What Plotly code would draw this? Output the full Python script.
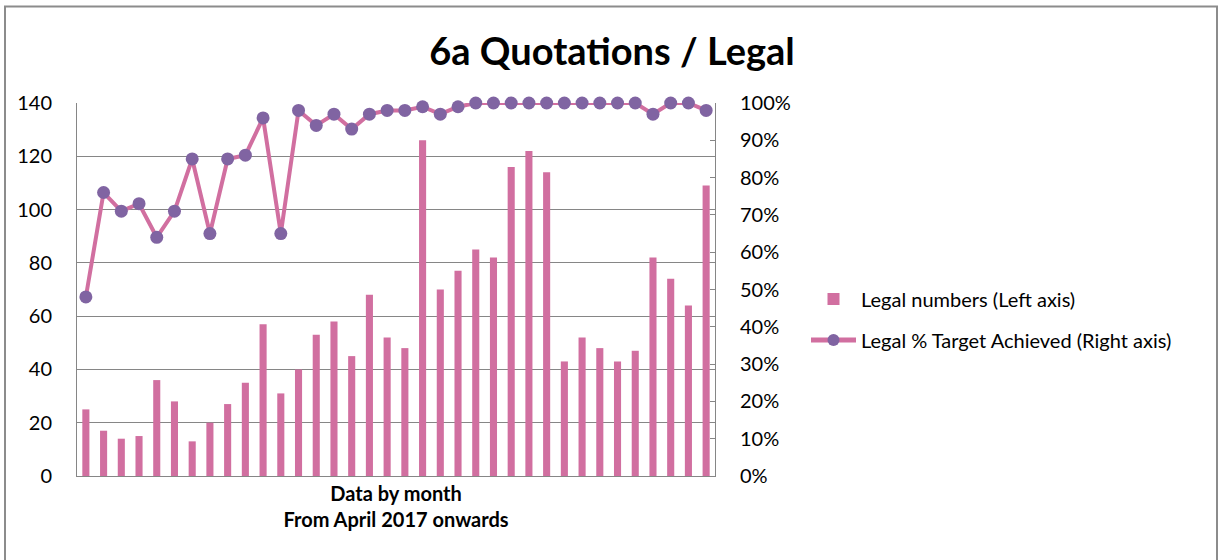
import plotly.graph_objects as go

months = list(range(1, 37))
legal_numbers = [25, 17, 14, 15, 36, 28, 13, 20, 27, 35, 57, 31, 40, 53, 58, 45, 68, 52, 48,
                 126, 70, 77, 85, 82, 116, 122, 114, 43, 52, 48, 43, 47, 82, 74, 64, 109]
legal_pct = [48, 76, 71, 73, 64, 71, 85, 65, 85, 86, 96, 65, 98, 94, 97, 93, 97, 98, 98,
             99, 97, 99, 100, 100, 100, 100, 100, 100, 100, 100, 100, 100, 97, 100, 100, 98]
legal_frac = [v / 100 for v in legal_pct]

left_ticks = [0, 20, 40, 60, 80, 100, 120, 140]
right_ticks = [i / 10 for i in range(11)]

PINK = "#D16FA0"
PURPLE = "#8064A2"
GRID = "#868686"
FONT = "Lato, Calibri, Carlito, sans-serif"
FS = 20

fig = go.Figure()
fig.add_trace(go.Bar(x=months, y=legal_numbers, name="Legal numbers (Left axis)",
                     marker=dict(color=PINK, line=dict(width=0)), yaxis="y", legend="legend"))
fig.add_trace(go.Scatter(x=months, y=legal_frac, name="Legal % Target Achieved (Right axis)",
                         mode="lines+markers", yaxis="y2", legend="legend2", cliponaxis=False,
                         line=dict(color=PINK, width=4),
                         marker=dict(color=PURPLE, size=13, line=dict(width=0))))

L, R, T, B = 77, 715, 103, 476
W, H = 1218, 560
pw, ph = R - L, B - T

def px(x):
    return (x - L) / pw

def py(y):
    return (B - y) / ph

leg_common = dict(xanchor="left", yanchor="middle", font=dict(size=FS, family=FONT),
                  bgcolor="rgba(0,0,0,0)", itemwidth=45, itemsizing="constant")

fig.update_layout(
    width=W, height=H,
    margin=dict(l=L, r=W - R, t=T, b=H - B),
    paper_bgcolor="white", plot_bgcolor="white",
    font=dict(family=FONT, size=FS, color="#000000"),
    title=dict(text="<b>6a Quotations / Legal</b>", x=px(612), xref="paper", xanchor="center",
               y=1 - 52 / H, yanchor="middle", font=dict(size=38, family=FONT)),
    bargap=0.6,
    showlegend=True,
    legend=dict(x=px(806), y=py(299), **leg_common),
    legend2=dict(x=px(806), y=py(340), **leg_common),
    xaxis=dict(range=[0.5, 36.5], showticklabels=False, showgrid=False, zeroline=False,
               showline=True, linecolor=GRID, linewidth=1, ticks="",
               title=dict(text="<b>Data by month<br>From April 2017 onwards</b>",
                          font=dict(size=FS, family=FONT), standoff=10)),
    yaxis=dict(range=[0, 140], tickvals=left_ticks, showgrid=True, gridcolor=GRID, gridwidth=1,
               zeroline=False, showline=True, linecolor=GRID, linewidth=1, ticks="",
               ticklabelstandoff=20, tickfont=dict(size=FS, family=FONT)),
    yaxis2=dict(range=[0, 1], tickvals=right_ticks, tickformat=".0%", overlaying="y",
                side="right", showgrid=False, zeroline=False, showline=True, linecolor=GRID,
                linewidth=1, ticks="inside", ticklen=5, tickcolor=GRID,
                ticklabelstandoff=20, tickfont=dict(size=FS, family=FONT)),
    shapes=[dict(type="rect", xref="paper", yref="paper", x0=px(5), x1=px(1217),
                 y0=py(570), y1=py(6.5), line=dict(color="#8C8C8C", width=2),
                 fillcolor="rgba(0,0,0,0)", layer="below")],
)

fig.write_html("out.html", config={"displayModeBar": False},
               post_script="document.body.style.margin='0';document.body.style.padding='0';")
